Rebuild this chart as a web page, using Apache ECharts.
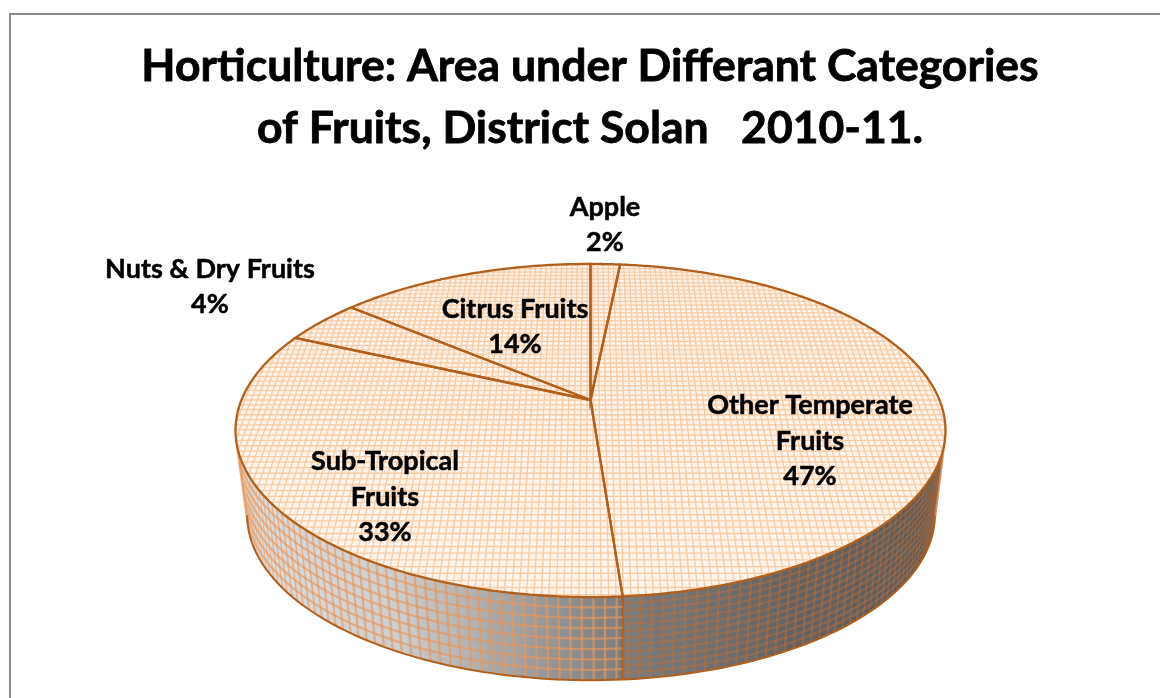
<!DOCTYPE html>
<html>
<head>
<meta charset="utf-8">
<title>Horticulture: Area under Differant Categories of Fruits</title>
<script src="https://cdn.jsdelivr.net/npm/echarts@6/dist/echarts.min.js"></script>
<style>
    html, body { margin: 0; padding: 0; background: #fff; }
    #chart { width: 1160px; height: 698px; }
</style>
</head>
<body>
<div id="chart"></div>
<script>
// chart data, percent of area, clockwise from twelve o'clock
var categories = ['Apple', 'Other Temperate\nFruits', 'Sub-Tropical\nFruits', 'Nuts & Dry Fruits', 'Citrus Fruits'];
var shares = [1.6, 47.2, 33.0, 4.3, 13.9];
var titleLines = ['Horticulture: Area under Differant Categories', 'of Fruits, District Solan   2010-11.'];

// pie drawn in perspective: top face and foot of the wall are the same tilted circle
var TILT = 0.183;
var topRing = { cx: 590.5, cy: 400, rx: 349, ry: 161 };
var footRing = { cx: 591, cy: 485, rx: 338, ry: 159.5 };
var WALL_FROM = Math.acos(-TILT);
var WALL_TO = 2 * Math.PI - WALL_FROM;

var EDGE = '#b0601c';
var MESH = '#fbcba5';
var FACE = '#fff4ec';
var FONT = 'Lato, "Noto Sans", sans-serif';

// label centres are hand placed, the way they were dragged in the original
var labelAt = [[605, 225], [810, 441], [385, 497], [210, 287], [515, 327]];
// rows and wall tint differ per slice
var wallRows = [12, 12, 8, 8, 8];
var wallMesh = ['rgba(200,110,50,0.38)', 'rgba(200,110,50,0.38)', 'rgba(232,150,90,0.62)', 'rgba(232,150,90,0.62)', 'rgba(232,150,90,0.62)'];
var UPRIGHT_STEP = 0.0275;

function project(ring, u, v) {
    var w = 1 - TILT * v;
    return [ring.cx + ring.rx * u / w, ring.cy + ring.ry * v / w];
}
function onRing(ring, theta) {
    return project(ring, Math.sin(theta), -Math.cos(theta));
}
function sliceAngles(i) {
    var total = shares.reduce(function (a, b) { return a + b; }, 0);
    var before = shares.slice(0, i).reduce(function (a, b) { return a + b; }, 0);
    return [before / total * 2 * Math.PI, (before + shares[i]) / total * 2 * Math.PI];
}
function arc(ring, from, to, step) {
    var pts = [];
    var n = Math.max(1, Math.ceil((to - from) / step));
    for (var j = 0; j <= n; j++) {
        pts.push(onRing(ring, from + (to - from) * j / n));
    }
    return pts;
}

function renderTopMesh() {
    var children = [];
    var u, v, half, a, b;
    for (u = -0.99; u < 1; u += 0.0175) {
        half = Math.sqrt(1 - u * u);
        a = project(topRing, u, -half);
        b = project(topRing, u, half);
        children.push({ type: 'line', z2: 3, silent: true, shape: { x1: a[0], y1: a[1], x2: b[0], y2: b[1] }, style: { stroke: MESH, lineWidth: 1.4 } });
    }
    for (v = -0.99; v < 1; v += 0.03) {
        half = Math.sqrt(1 - v * v);
        a = project(topRing, -half, v);
        b = project(topRing, half, v);
        children.push({ type: 'line', z2: 3, silent: true, shape: { x1: a[0], y1: a[1], x2: b[0], y2: b[1] }, style: { stroke: MESH, lineWidth: 1.3 } });
    }
    return children;
}

function renderWall(i) {
    var ang = sliceAngles(i);
    var from = Math.max(ang[0], WALL_FROM);
    var to = Math.min(ang[1], WALL_TO);
    if (to <= from) return [];
    var children = [];
    var topArc = arc(topRing, from, to, 0.02);
    var footArc = arc(footRing, from, to, 0.02);
    children.push({
        type: 'polygon', z2: 1, silent: true,
        shape: { points: topArc.concat(footArc.slice().reverse()) },
        style: {
            fill: new echarts.graphic.LinearGradient(0, 0, 1160, 0, [
                { offset: 240 / 1160, color: '#dedede' },
                { offset: 400 / 1160, color: '#cccccc' },
                { offset: 560 / 1160, color: '#929292' },
                { offset: 625 / 1160, color: '#7c7c7c' },
                { offset: 800 / 1160, color: '#626262' },
                { offset: 940 / 1160, color: '#5a5a5a' }
            ], true)
        }
    });
    // texture of the wall: uprights at fixed angle, thinner where they bunch up at the ends
    var first = Math.ceil(from / UPRIGHT_STEP) * UPRIGHT_STEP;
    for (var t = first; t < to; t += UPRIGHT_STEP) {
        var a = onRing(topRing, t), b = onRing(footRing, t);
        var next = onRing(topRing, t + UPRIGHT_STEP);
        var gap = Math.abs(next[0] - a[0]);
        if (gap < 2) continue;
        children.push({ type: 'line', z2: 2, silent: true, shape: { x1: a[0], y1: a[1], x2: b[0], y2: b[1] }, style: { stroke: wallMesh[i], lineWidth: Math.min(2.4, gap * 0.26) } });
    }
    var rows = wallRows[i];
    for (var r = 1; r < rows; r++) {
        var f = r / rows;
        var row = topArc.map(function (p, k) {
            return [p[0] + (footArc[k][0] - p[0]) * f, p[1] + (footArc[k][1] - p[1]) * f];
        });
        children.push({ type: 'polyline', z2: 2, silent: true, shape: { points: row }, style: { stroke: wallMesh[i], lineWidth: 2.2, fill: null } });
    }
    // outline of wall
    children.push({ type: 'polyline', z2: 2, silent: true, shape: { points: footArc }, style: { stroke: EDGE, lineWidth: 2, fill: null } });
    if (ang[1] < WALL_TO && ang[1] > WALL_FROM) {
        var c = onRing(topRing, ang[1]), d = onRing(footRing, ang[1]);
        children.push({ type: 'line', z2: 2, silent: true, shape: { x1: c[0], y1: c[1], x2: d[0], y2: d[1] }, style: { stroke: EDGE, lineWidth: 2.5 } });
    }
    return children;
}

function renderSlice(params, api) {
    var i = params.dataIndex;
    var ang = sliceAngles(i);
    var rim = arc(topRing, ang[0], ang[1], 0.01);
    var outline = [[topRing.cx, topRing.cy]].concat(rim);
    var percent = Math.round(api.value(0));
    var children = renderWall(i);
    children.push({ type: 'polygon', z2: 2.5, silent: true, shape: { points: outline }, style: { fill: FACE } });
    children.push({ type: 'polygon', z2: 4, silent: true, shape: { points: outline }, style: { fill: null, stroke: EDGE, lineWidth: 2.3 } });
    children.push({
        type: 'text', z2: 5, silent: true,
        style: {
            x: labelAt[i][0], y: labelAt[i][1],
            text: categories[i] + '\n' + percent + '%',
            font: 'bold 27px ' + FONT, lineHeight: 35.5,
            fill: '#000', stroke: '#000', lineWidth: 0.5,
            align: 'center', verticalAlign: 'middle'
        }
    });
    if (i === 0) children = children.concat(renderTopMesh());
    return { type: 'group', children: children };
}

var chart = echarts.init(document.getElementById('chart'));
chart.setOption({
    animation: false,
    backgroundColor: '#fff',
    title: {
        text: titleLines.join('\n'),
        left: 585, top: 31, textAlign: 'center',
        textStyle: { fontFamily: FONT, fontWeight: 'bold', fontSize: 44.5, lineHeight: 62, color: '#000', textBorderColor: '#000', textBorderWidth: 0.8 }
    },
    graphic: [{
        type: 'polyline', silent: true,
        shape: { points: [[10, 698], [10, 14], [1160, 14]] },
        style: { stroke: '#8a8a8a', lineWidth: 2, fill: null }
    }],
    series: [{
        type: 'custom',
        coordinateSystem: 'none',
        renderItem: renderSlice,
        data: shares
    }]
});
</script>
</body>
</html>
